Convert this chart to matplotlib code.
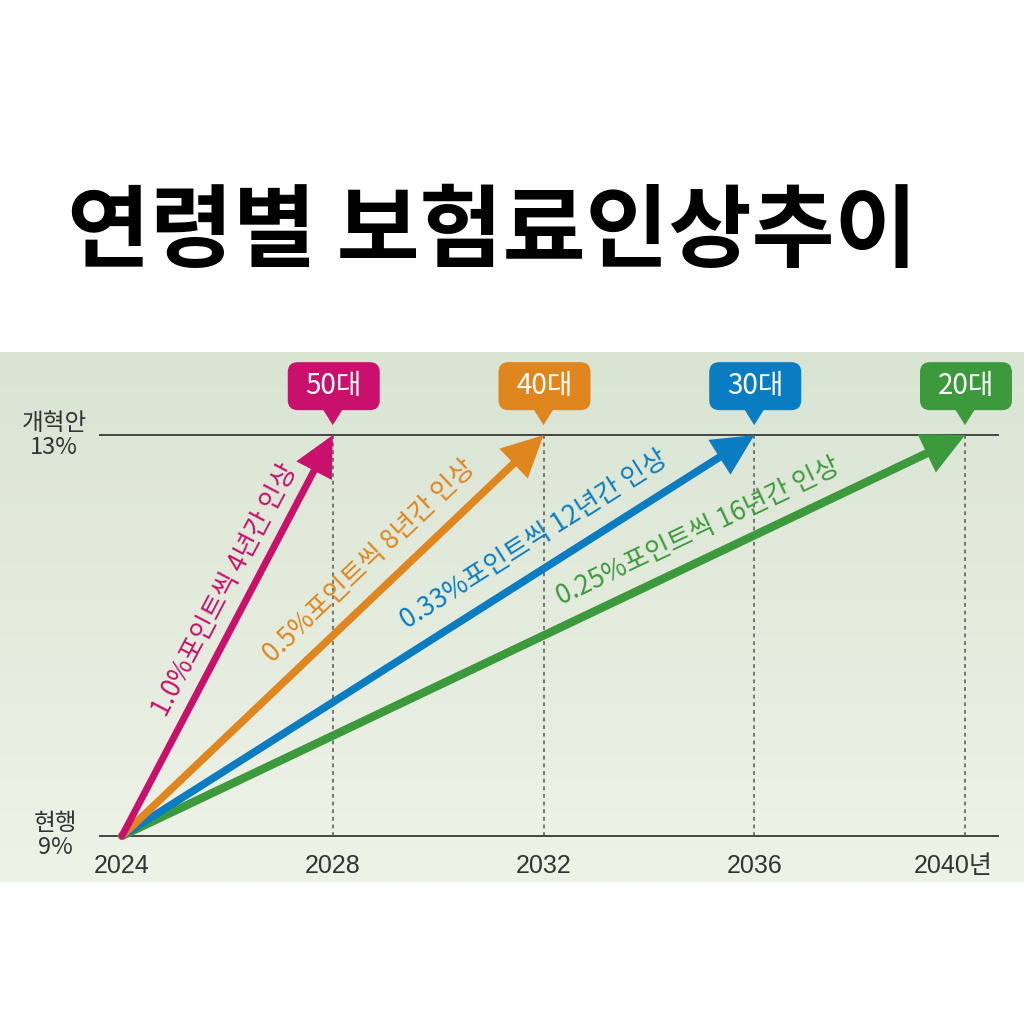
import numpy as np
import matplotlib
matplotlib.use('Agg')
import matplotlib.pyplot as plt
from matplotlib.patches import FancyArrowPatch, FancyBboxPatch, Polygon
from matplotlib.transforms import ScaledTranslation

plt.rcParams['font.family'] = ['Noto Sans CJK KR', 'DejaVu Sans']
NUMFONT = ['Liberation Sans', 'Noto Sans CJK KR']

## DATA
title = '연령별 보험료인상추이'
start_year = 2024
start_rate = 9
target_rate = 13
end_years = [2028, 2032, 2036, 2040]
ages = ['50대', '40대', '30대', '20대']
labels = ['1.0%포인트씩 4년간 인상', '0.5%포인트씩 8년간 인상',
          '0.33%포인트씩 12년간 인상', '0.25%포인트씩 16년간 인상']
label_pos = [(2025.95, 11.45), (2028.69, 11.74), (2031.82, 11.96), (2034.93, 12.04)]
xticks = [2024, 2028, 2032, 2036, 2040]
xticklabels = ['2024', '2028', '2032', '2036', '2040년']

COLORS = ['#c8106c', '#e0861e', '#0a7dc2', '#3d9a3c']
LWS = [5.0, 5.5, 5.5, 6.0]

fig = plt.figure(figsize=(10.24, 10.24), dpi=100, facecolor='w')
fig.text(0.481, 1 - 233/1024, title, ha='center', va='center',
         fontsize=65, fontweight='bold', color='k')

ax = fig.add_axes([0, 1 - 882/1024, 1, 530/1024])
pxyr = (965 - 122) / 16
XL = (2024 - 122/pxyr, 2024 + (1024 - 122)/pxyr)
YL = (9 - 46/100, 13 + 83/100)

# background gradient (darker at top)
grad = np.linspace(0, 1, 256)[:, None]
top = np.array([217, 228, 211]) / 255
bot = np.array([238, 243, 232]) / 255
img = top[None, None, :] * (1 - grad[:, :, None]) + bot[None, None, :] * grad[:, :, None]
ax.imshow(img, extent=[XL[0], XL[1], YL[0], YL[1]], origin='upper', aspect='auto', zorder=0)
ax.set_xlim(*XL)
ax.set_ylim(*YL)
ax.axis('off')

x0 = 2024 - 22/pxyr
x1 = 2040 + 33/pxyr
ax.plot([x0, x1], [target_rate, target_rate], c='#444444', lw=1.4, zorder=2)
ax.plot([x0, x1], [start_rate, start_rate], c='#444444', lw=1.4, zorder=2)

for yr in end_years:
  ax.plot([yr, yr], [start_rate, target_rate], c='#555555', lw=1.1, ls=(0, (2.5, 2.5)), zorder=2)

# y labels
ax.text(2024 - 68/pxyr, 13.0, '개혁안\n13%', ha='center', va='center', fontsize=17,
        color='#333333', linespacing=1.05, family=NUMFONT[::-1])
ax.text(2024 - 67/pxyr, 9.0, '현행\n9%', ha='center', va='center', fontsize=17,
        color='#333333', linespacing=1.05, family=NUMFONT[::-1])

for x, t in zip(xticks, xticklabels):
  dx = -12/pxyr if t.endswith('년') else 0
  ax.text(x + dx, 9 - 30/100, t, ha='center', va='center', fontsize=18,
          color='#333333', family=NUMFONT)

# arrows
for yr, c, lw in zip(end_years[::-1], COLORS[::-1], LWS[::-1]):
  arr = FancyArrowPatch((start_year, start_rate), (yr, target_rate),
                        arrowstyle='-|>,head_length=1.3,head_width=0.65',
                        mutation_scale=16, color=c, lw=lw, shrinkA=0, shrinkB=0,
                        joinstyle='miter', capstyle='round', zorder=3)
  ax.add_patch(arr)

# rotated labels
for yr, lab, pos, c in zip(end_years, labels, label_pos, COLORS):
  p1 = ax.transData.transform((start_year, start_rate))
  p2 = ax.transData.transform((yr, target_rate))
  ang = np.degrees(np.arctan2(p2[1] - p1[1], p2[0] - p1[0]))
  ax.text(pos[0], pos[1], lab, rotation=ang, rotation_mode='anchor',
          ha='center', va='center', fontsize=19, color=c, zorder=4)

# callouts
for yr, age, c in zip(end_years, ages, COLORS):
  tr = fig.dpi_scale_trans + ScaledTranslation(yr, target_rate, ax.transData)
  box = FancyBboxPatch((-0.45, 0.25), 0.92, 0.48,
                       boxstyle='round,pad=0,rounding_size=0.1',
                       fc=c, ec='none', transform=tr, zorder=5, clip_on=False)
  ax.add_patch(box)
  tri = Polygon([(-0.1, 0.26), (0.1, 0.26), (0.0, 0.10)], closed=True,
                fc=c, ec='none', transform=tr, zorder=5, clip_on=False)
  ax.add_patch(tri)
  ax.text(0.01, 0.49, age, transform=tr, ha='center', va='center', fontsize=20,
          color='w', fontweight='medium', zorder=6)

fig.savefig('out.png', dpi=100, facecolor='w')
